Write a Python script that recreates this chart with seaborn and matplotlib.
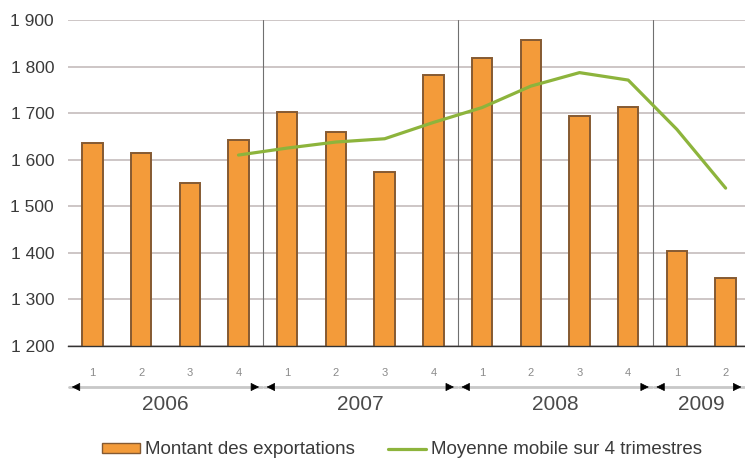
import numpy as np
import pandas as pd
import matplotlib
matplotlib.use("Agg")
import matplotlib.pyplot as plt
import matplotlib.ticker as mticker
import seaborn as sns
from matplotlib.patches import Patch
from matplotlib.lines import Line2D

# Data (quarterly exports)
years = ["2006", "2007", "2008", "2009"]
quarters = ["1", "2", "3", "4", "1", "2", "3", "4", "1", "2", "3", "4", "1", "2"]
exports = [1635, 1614, 1550, 1642, 1702, 1659, 1573, 1781, 1818, 1857, 1694, 1713, 1404, 1346]
# 4-quarter moving average, starts at the 4th quarter of 2006
moving_avg = [None, None, None, 1610, 1625, 1638, 1645, 1680, 1712, 1758, 1787, 1771, 1665, 1539]

sns.set_theme(style="white")
plt.rcParams['font.family'] = ['Liberation Sans', 'DejaVu Sans']

df = pd.DataFrame({"pos": np.arange(len(exports)), "quarter": quarters,
                   "exports": exports,
                   "mm": pd.to_numeric(pd.Series(moving_avg), errors='coerce')})

fig = plt.figure(figsize=(7.45, 4.59), dpi=100)
ax = fig.add_axes([68 / 745, 1 - 346 / 459, (750 - 68) / 745, 326 / 459])

# horizontal gridlines
for v in range(1200, 2000, 100):
    ax.axhline(v, color="#c9c1c1", lw=1.3, zorder=0)

sns.barplot(data=df, x="pos", y="exports", color="#f39b3a", width=0.42,
            edgecolor="#855a32", linewidth=1.4, saturation=1, ax=ax, zorder=2)
sns.lineplot(data=df.dropna(), x="pos", y="mm", color="#8db43c", lw=2.3, ax=ax, zorder=3)

ax.set_ylim(1200, 1900)
ax.set_xlim(-0.5, 13.5)
ax.yaxis.set_major_locator(mticker.MultipleLocator(100))
ax.yaxis.set_major_formatter(mticker.FuncFormatter(lambda v, p: f"{int(v):,}".replace(",", " ")))
ax.tick_params(axis="y", length=0, labelsize=12.5, colors="#3a3a3a", pad=10)

# year separators
bounds = [-0.5, 3.5, 7.5, 11.5]
for b in bounds[1:]:
    ax.axvline(b, color="#707070", lw=0.8, zorder=1)

ax.set_xticks(bounds)
ax.set_xticklabels([])
ax.tick_params(axis="x", which="major", direction="inout", length=8, width=1, color="#333333")
ax.set_xticks(df["pos"], minor=True)
ax.set_xticklabels(quarters, minor=True)
ax.tick_params(axis="x", which="minor", length=0, labelsize=8, colors="#8a8a8a", pad=16)
ax.set_xlabel("")
ax.set_ylabel("")

for s in ["top", "right", "left"]:
    ax.spines[s].set_visible(False)
ax.spines["bottom"].set_color("#333333")
ax.spines["bottom"].set_linewidth(1)

# year brackets with arrows
trans = ax.get_xaxis_transform()
spans = [(-0.5, 3.5), (3.5, 7.5), (7.5, 11.5), (11.5, 13.5)]
y_arr = -41 / 326
for yr, (a, b) in zip(years, spans):
    l, r = a + 0.02, min(b - 0.02, 13.38)
    ax.plot([l, r], [y_arr, y_arr], transform=trans, color="#c8c8c8", lw=2, clip_on=False)
    ax.annotate("", xy=(l, y_arr), xytext=(l + 0.2, y_arr), xycoords=trans, textcoords=trans,
                arrowprops=dict(arrowstyle="-|>", color="black", lw=0.5, mutation_scale=13))
    ax.annotate("", xy=(r, y_arr), xytext=(r - 0.2, y_arr), xycoords=trans, textcoords=trans,
                arrowprops=dict(arrowstyle="-|>", color="black", lw=0.5, mutation_scale=13))
    ax.text((a + b) / 2, -58 / 326, yr, transform=trans, ha="center", va="center",
            fontsize=15, color="#4a4a4a")

handles = [Patch(facecolor="#f39b3a", edgecolor="#855a32", lw=1),
           Line2D([0], [0], color="#8db43c", lw=2.3)]
fig.legend(handles, ["Montant des exportations", "Moyenne mobile sur 4 trimestres"],
           loc="center", bbox_to_anchor=(402 / 745, 1 - 450 / 459), ncol=2, frameon=False,
           fontsize=13.5, handlelength=2.0, handleheight=0.4, handletextpad=0.27,
           columnspacing=1.8, labelcolor="#3a3a3a", borderaxespad=0, borderpad=0)

plt.savefig("out.png", dpi=100)
